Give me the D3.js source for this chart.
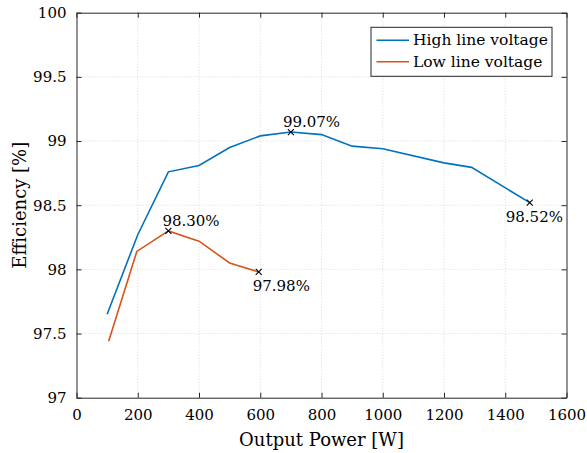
<!DOCTYPE html>
<html>
<head>
<meta charset="utf-8">
<script src="https://cdn.jsdelivr.net/npm/d3@7"></script>
<style>
  body { margin: 0; background: #fff; }
</style>
</head>
<body>
<div id="chart"></div>
<script>
// output power [W] and efficiency [%]
const highPower = [100, 200, 300, 400, 500, 600, 700, 800, 900, 1000, 1200, 1290, 1480];
const highEff = [97.65, 98.27, 98.76, 98.81, 98.95, 99.04, 99.07, 99.05, 98.96, 98.94, 98.83, 98.795, 98.52];
const lowPower = [105, 197, 300, 400, 500, 595];
const lowEff = [97.44, 98.14, 98.30, 98.22, 98.05, 97.98];

const seriesNames = ["High line voltage", "Low line voltage"];
const seriesColors = ["#0072BD", "#D95319"];

const xTicks = [0, 200, 400, 600, 800, 1000, 1200, 1400, 1600];
const yTicks = [97, 97.5, 98, 98.5, 99, 99.5, 100];

// marked points: [power, efficiency, label]
const marks = [
    [700, 99.07, "99.07%"],
    [1480, 98.52, "98.52%"],
    [300, 98.30, "98.30%"],
    [595, 97.98, "97.98%"]
];
// where each label sits relative to its marker
const markOffsets = [[-8, -5], [-24, 19], [-6, -5], [-6, 19]];

const width = 587, height = 453;
const margin = {top: 12.7, right: 20.5, bottom: 55.3, left: 76.5};
const w = width - margin.left - margin.right;
const h = height - margin.top - margin.bottom;
const axisColor = "#262626";
const serif = "'DejaVu Serif', serif";

let svg = d3.select("#chart")
    .append("svg")
    .attr("width", width)
    .attr("height", height)
    .attr("font-family", serif)
    .append("g")
    .attr("transform", `translate(${margin.left}, ${margin.top})`);

let x = d3.scaleLinear().domain([0, 1600]).range([0, w]);
let y = d3.scaleLinear().domain([97, 100]).range([h, 0]);

// grid
svg.append("g")
    .selectAll("line")
    .data(xTicks.slice(1, -1))
    .enter()
    .append("line")
    .attr("x1", d => x(d)).attr("x2", d => x(d))
    .attr("y1", 0).attr("y2", h)
    .attr("stroke", "#d9d9d9")
    .attr("stroke-dasharray", "1,2");

svg.append("g")
    .selectAll("line")
    .data(yTicks.slice(1, -1))
    .enter()
    .append("line")
    .attr("y1", d => y(d)).attr("y2", d => y(d))
    .attr("x1", 0).attr("x2", w)
    .attr("stroke", "#d9d9d9")
    .attr("stroke-dasharray", "1,2");

// axes (box with inward ticks)
let axBottom = svg.append("g")
    .attr("transform", `translate(0, ${h})`)
    .call(d3.axisBottom(x).tickValues(xTicks).tickSize(-5).tickPadding(12).tickFormat(d3.format("d")).tickSizeOuter(0));
let axTop = svg.append("g")
    .call(d3.axisTop(x).tickValues(xTicks).tickSize(-5).tickFormat("").tickSizeOuter(0));
let axLeft = svg.append("g")
    .call(d3.axisLeft(y).tickValues(yTicks).tickSize(-5).tickPadding(10).tickFormat(d => String(d)).tickSizeOuter(0));
let axRight = svg.append("g")
    .attr("transform", `translate(${w}, 0)`)
    .call(d3.axisRight(y).tickValues(yTicks).tickSize(-5).tickFormat("").tickSizeOuter(0));

[axBottom, axTop, axLeft, axRight].forEach(a => {
    a.attr("font-family", serif).attr("font-size", 15);
    a.selectAll("path").attr("stroke", axisColor).attr("stroke-width", 1);
    a.selectAll("line").attr("stroke", axisColor);
    a.selectAll("text").attr("fill", "#000");
});

// lines
let line = d3.line().x(d => x(d[0])).y(d => y(d[1]));
let series = [d3.zip(highPower, highEff), d3.zip(lowPower, lowEff)];

svg.selectAll(".series")
    .data(series)
    .enter()
    .append("path")
    .attr("class", "series")
    .attr("d", d => line(d))
    .attr("fill", "none")
    .attr("stroke", (d, i) => seriesColors[i])
    .attr("stroke-width", 1.6);

// markers and labels
let mk = svg.selectAll(".mark")
    .data(marks)
    .enter()
    .append("g")
    .attr("class", "mark")
    .attr("transform", d => `translate(${x(d[0])}, ${y(d[1])})`);

mk.append("path")
    .attr("d", "M-3,-3L3,3M-3,3L3,-3")
    .attr("stroke", "#000")
    .attr("stroke-width", 1.1);

mk.append("text")
    .attr("x", (d, i) => markOffsets[i][0])
    .attr("y", (d, i) => markOffsets[i][1])
    .attr("font-size", 15)
    .text(d => d[2]);

// axis titles
svg.append("text")
    .attr("x", w / 2)
    .attr("y", h + 48)
    .attr("text-anchor", "middle")
    .attr("font-size", 18)
    .text("Output Power [W]");

svg.append("text")
    .attr("transform", `translate(${-51}, ${h / 2}) rotate(-90)`)
    .attr("text-anchor", "middle")
    .attr("font-size", 18)
    .text("Efficiency [%]");

// legend
let lg = svg.append("g").attr("transform", `translate(${371 - margin.left}, ${27.3 - margin.top})`);
lg.append("rect")
    .attr("width", 181)
    .attr("height", 49)
    .attr("fill", "#fff")
    .attr("stroke", axisColor)
    .attr("stroke-width", 1);

let item = lg.selectAll(".item")
    .data(seriesNames)
    .enter()
    .append("g")
    .attr("transform", (d, i) => `translate(0, ${13 + i * 21.5})`);

item.append("line")
    .attr("x1", 5.5).attr("x2", 38)
    .attr("stroke", (d, i) => seriesColors[i])
    .attr("stroke-width", 1.6);

item.append("text")
    .attr("x", 42)
    .attr("dy", "0.33em")
    .attr("font-size", 15.5)
    .text(d => d);
</script>
</body>
</html>
